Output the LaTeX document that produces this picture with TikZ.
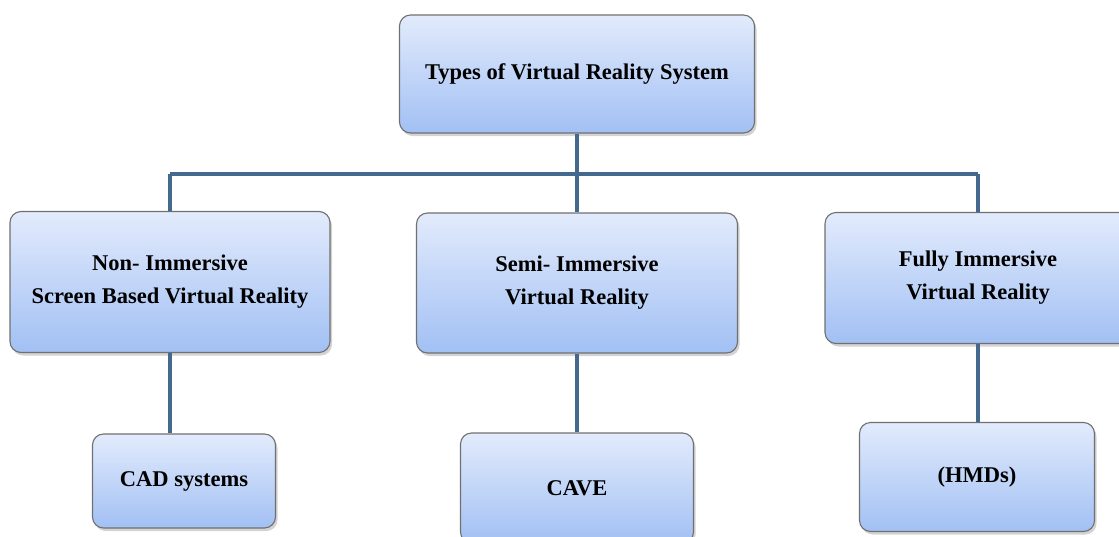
\documentclass[tikz,border=0pt]{standalone}
\usepackage{fontspec}
\setmainfont{Liberation Serif}
\usepackage{tikz}
\usetikzlibrary{shadows,positioning}

\definecolor{boxtop}{HTML}{E2EBFC}
\definecolor{boxbot}{HTML}{A2C0F4}
\definecolor{boxline}{HTML}{707070}
\definecolor{linkblue}{HTML}{44698F}

\begin{document}
\begin{tikzpicture}[
        x=1pt, y=-1pt,
        every node/.style={font=\fontsize{22.5}{33}\selectfont\bfseries, align=center},
        vrbox/.style={rounded corners=11pt, draw=boxline, line width=1.1pt,
            top color=boxtop, bottom color=boxbot,
            drop shadow={shadow xshift=2pt, shadow yshift=-3pt, opacity=.35}},
        link/.style={draw=linkblue, line width=3.6pt},
    ]
        \useasboundingbox (0,0) rectangle (1119,536);

        \node [vrbox, minimum width=355pt, minimum height=118pt] (vr) at (577,74) {Types of Virtual Reality System};

        \node [vrbox, minimum width=320pt, minimum height=141pt] (non) at (170,282) {Non- Immersive\\Screen Based Virtual Reality};
        \node [vrbox, minimum width=321pt, minimum height=140pt] (semi) at (577,283) {Semi- Immersive\\Virtual Reality};
        \node [vrbox, minimum width=306pt, minimum height=131pt] (full) at (978,278) {Fully Immersive\\Virtual Reality};

        \node [vrbox, minimum width=183pt, minimum height=94pt] (cad) at (184,481) {CAD systems};
        \node [vrbox, minimum width=233pt, minimum height=110pt] (cave) at (577,488) {CAVE};
        \node [vrbox, minimum width=235pt, minimum height=109pt] (hmd) at (977,477) {(HMDs)};

        \coordinate (bar) at (577,174);
        \draw [link] (vr.south) -- (bar);
        \draw [link] (non.north |- bar) -- (full.north |- bar);
        \draw [link] (non.north |- bar) -- (non.north);
        \draw [link] (semi.north |- bar) -- (semi.north);
        \draw [link] (full.north |- bar) -- (full.north);
        \draw [link] (non.south) -- (non.south |- cad.north);
        \draw [link] (semi.south) -- (semi.south |- cave.north);
        \draw [link] (full.south) -- (full.south |- hmd.north);
\end{tikzpicture}
\end{document}
